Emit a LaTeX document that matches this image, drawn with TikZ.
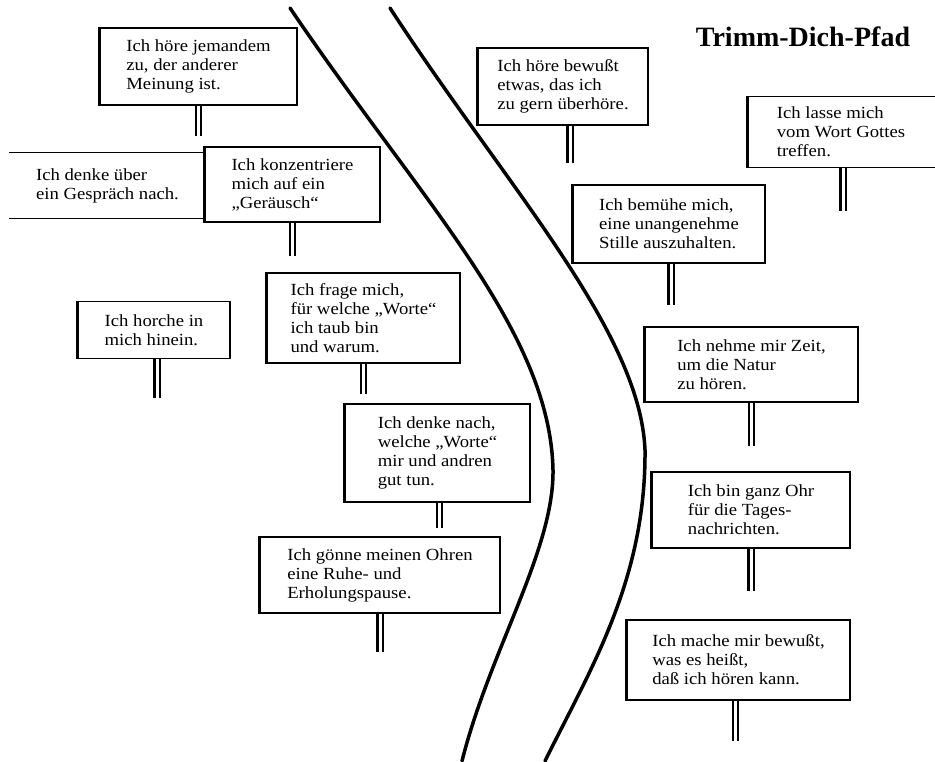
\documentclass[tikz,border=0pt]{standalone}
\usepackage{fontspec}
\setmainfont{Liberation Serif}
\newfontfamily\signfont{Liberation Serif}[FakeStretch=1.1]

\begin{document}
\begin{tikzpicture}[x=1pt, y=-1pt,
  signbox/.style={draw, fill=white, line width=1.3pt, inner sep=0pt, align=left,
    font=\signfont\fontsize{17}{19}\selectfont},
  signpost/.style={double, line width=2.2pt, double distance=3pt},
  trail/.style={line width=3.5pt, line cap=round}]
\useasboundingbox (0,0) rectangle (935,761);

% the path
\draw[trail] (290,8) .. controls (420,200) and (550,330) .. (553,470)
  .. controls (554,550) and (490,650) .. (462,761);
\draw[trail] (390,8) .. controls (505,185) and (640,330) .. (645,450)
  .. controls (646,580) and (590,670) .. (545,761);

\node[font=\bfseries\fontsize{28}{30}\selectfont, anchor=base] (titel) at (803,46) {Trimm-Dich-Pfad};

% left side
\node[signbox, minimum width=197, minimum height=77] (hoere) at (198.5,66.5) {Ich höre jemandem\\zu, der anderer\\Meinung ist.};
\node[signbox, draw=none, minimum width=195, minimum height=65] (gespraech) at (107.5,185.5) {Ich denke über\\ein Gespräch nach.};
\node[signbox, minimum width=175, minimum height=75] (geraeusch) at (292.5,184.5) {Ich konzentriere\\mich auf ein\\„Geräusch“};
\node[signbox, minimum width=152, minimum height=57] (horche) at (154,330) {Ich horche in\\mich hinein.};
\node[signbox, minimum width=193, minimum height=90] (taub) at (363.5,318) {Ich frage mich,\\für welche „Worte“\\ich taub bin\\und warum.};
\node[signbox, minimum width=185, minimum height=98] (guttun) at (437.5,453) {Ich denke nach,\\welche „Worte“\\mir und andren\\gut tun.};
\node[signbox, minimum width=240, minimum height=76] (ruhe) at (380,575) {Ich gönne meinen Ohren\\eine Ruhe- und\\Erholungspause.};

% right side
\node[signbox, minimum width=170, minimum height=77] (bewusst) at (563,86.5) {Ich höre bewußt\\etwas, das ich\\zu gern überhöre.};
\node[signbox, draw=none, minimum width=186, minimum height=70] (gottes) at (841,132) {Ich lasse mich\\vom Wort Gottes\\treffen.};
\node[signbox, minimum width=192, minimum height=78] (stille) at (669,224) {Ich bemühe mich,\\eine unangenehme\\Stille auszuhalten.};
\node[signbox, minimum width=213, minimum height=75] (natur) at (751.5,364.5) {Ich nehme mir Zeit,\\um die Natur\\zu hören.};
\node[signbox, minimum width=198, minimum height=76] (ohr) at (751,510) {Ich bin ganz Ohr\\für die Tages-\\nachrichten.};
\node[signbox, minimum width=223, minimum height=80] (hoeren) at (738.5,660) {Ich mache mir bewußt,\\was es heißt,\\daß ich hören kann.};

% open boxes at the edges
\draw[line width=1.3pt] (gespraech.north west) -- (gespraech.north east) -- (gespraech.south east) -- (gespraech.south west);
\draw[line width=1.3pt] (gottes.north east) -- (gottes.north west) -- (gottes.south west) -- (gottes.south east);

\foreach \s in {hoere,geraeusch,horche,taub,guttun,ruhe,bewusst,gottes,stille,natur,ohr,hoeren}
  \draw[line width=3pt] (\s.north west) -- (\s.south west);

% posts
\draw[signpost] (hoere.south) -- ++(0,30);
\draw[signpost] (geraeusch.south) -- ++(0,33);
\draw[signpost] ([xshift=3]horche.south) -- ++(0,39);
\draw[signpost] (taub.south) -- ++(0,30);
\draw[signpost] ([xshift=2]guttun.south) -- ++(0,25);
\draw[signpost] (ruhe.south) -- ++(0,38);
\draw[signpost] ([xshift=7]bewusst.south) -- ++(0,37);
\draw[signpost] ([xshift=2]gottes.south) -- ++(0,43);
\draw[signpost] ([xshift=2]stille.south) -- ++(0,41);
\draw[signpost] (natur.south) -- ++(0,43);
\draw[signpost] (ohr.south) -- ++(0,42);
\draw[signpost] ([xshift=-3]hoeren.south) -- ++(0,40);
\end{tikzpicture}
\end{document}
